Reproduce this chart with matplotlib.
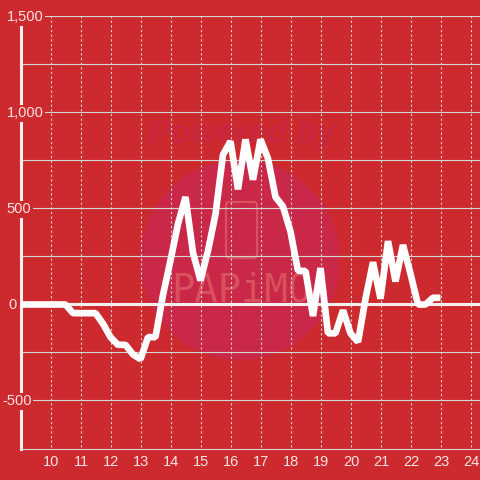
import matplotlib
matplotlib.use('Agg')
import matplotlib.pyplot as plt
from matplotlib.patches import Circle, FancyBboxPatch
from matplotlib.transforms import ScaledTranslation

# 15 minute readings starting at 9:00
start_hour = 9
values = [0, 0, 0, 0, 0, 0, 0,
          -45, -45, -45, -45, -100, -170, -210, -210, -260, -285, -170, -170,
          50, 230, 420, 560, 270, 125, 280, 470, 780, 850, 600, 860, 650, 860,
          760, 560, 510, 380, 175, 175, -60, 190, -150, -150, -30, -150, -195,
          30, 220, 30, 330, 120, 310, 160, 0, 0, 35, 35]
x_ticks = [10, 11, 12, 13, 14, 15, 16, 17, 18, 19, 20, 21, 22, 23, 24]
y_grid = [-500, -250, 250, 500, 750, 1000, 1250, 1500]
y_labels = [1500, 1000, 500, 0, -500]
label_left = {1500: 6.5, 1000: 6.5, 500: 6.5, 0: 8, -500: 2}  # px

BG = '#cc2a2e'
GRID = '#d4d6d0'
TEXT = '#f7e3e3'

plt.rcParams['font.family'] = ['Liberation Sans', 'DejaVu Sans']

fig = plt.figure(figsize=(4.8, 4.8), dpi=100, facecolor=BG)
ax = fig.add_axes([20.5 / 480, 1 - 448.5 / 480, (480 - 20.5) / 480, 432 / 480])
ax.patch.set_visible(False)

# faint watermark behind the chart
def px(x, y):
    return x / 480, 1 - y / 480

fig.patches.append(Circle(px(240, 260), 100 / 480, transform=fig.transFigure, zorder=-3,
                          facecolor='#c92848', edgecolor='none'))
fig.patches.append(FancyBboxPatch(px(226, 258), 31 / 480, 56 / 480, transform=fig.transFigure,
                                  boxstyle='round,pad=0,rounding_size=0.006', zorder=-2,
                                  facecolor='none', edgecolor='#d9505f', linewidth=1.6))
fig.text(*px(242, 134), 'Powered by', color='#c9263f', fontsize=24, fontweight='bold',
         fontstyle='italic', ha='center', va='center', zorder=-2)
fig.text(*px(241, 290), 'PAPiMO', color='#d9505f', fontsize=28, family='DejaVu Sans Mono',
         ha='center', va='center', zorder=-2)

ax.set_xlim(9, 9 + (480 - 20.5) / 30)
ax.set_ylim(-750, 1500)

ax.hlines(y_grid, 9, ax.get_xlim()[1], color=GRID, linewidth=0.8, zorder=1)
ax.vlines(x_ticks, -740, 1500, color=GRID, linewidth=0.8, linestyles=(0, (2, 2.2)), zorder=1)
ax.axhline(0, color='#f5f0ee', linewidth=2.2, zorder=2)

hours = [start_hour + i * 0.25 for i in range(len(values))]
ax.plot(hours, values, color='white', linewidth=4.8, solid_joinstyle='bevel',
        solid_capstyle='butt', zorder=3)

for s in ['top', 'right']:
    ax.spines[s].set_visible(False)
ax.spines['left'].set_color('#f5f0ee')
ax.spines['left'].set_linewidth(2.2)
ax.spines['bottom'].set_color(GRID)
ax.spines['bottom'].set_linewidth(0.8)

ax.set_xticks(x_ticks)
ax.set_xticklabels([str(t) for t in x_ticks])
ax.tick_params(axis='x', length=0, pad=5, labelsize=10.5, labelcolor=TEXT)
ax.set_yticks([])
nudge = ScaledTranslation(0.7 / 72, 0, fig.dpi_scale_trans)
for lab in ax.get_xticklabels():
    lab.set_transform(lab.get_transform() + nudge)

for v in y_labels:
    ax.annotate(f'{v:,}', xy=(0, v), xycoords=ax.get_yaxis_transform(),
                xytext=((label_left[v] - 20.5) * 0.72, -0.7), textcoords='offset points',
                ha='left', va='center', fontsize=10.5, color=TEXT, zorder=5,
                bbox=dict(facecolor=BG, edgecolor='none', pad=1))

fig.savefig('out.png', dpi=100, facecolor=BG)
